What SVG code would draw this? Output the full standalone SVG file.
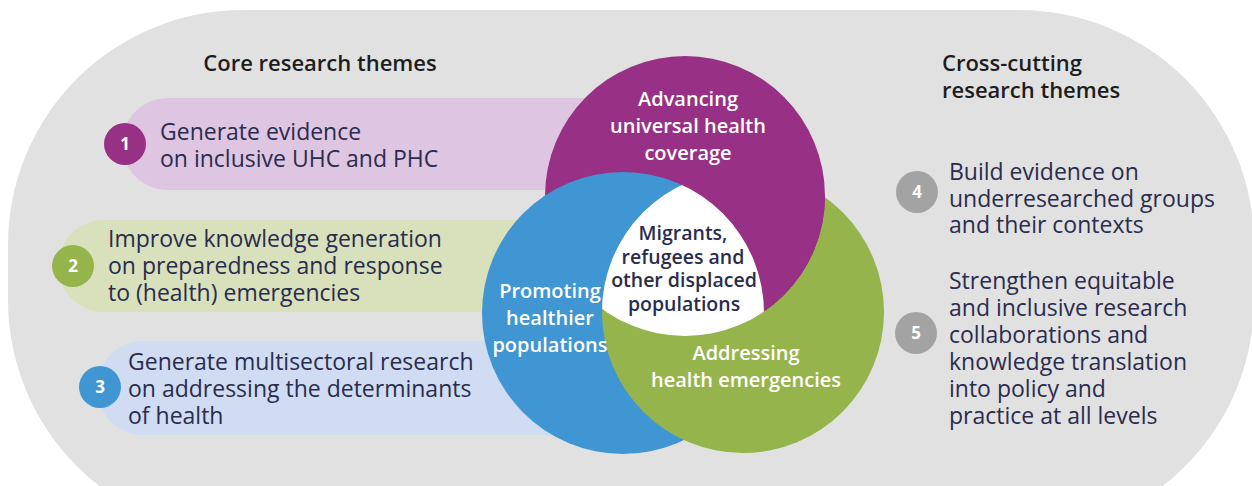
<svg xmlns="http://www.w3.org/2000/svg" width="1252" height="486" viewBox="0 0 1252 486">
  <style>
    .head { font-family: "Open Sans", "Liberation Sans", sans-serif; font-weight: 600; font-size: 22px; fill: #1d1d1d; }
    .body { font-family: "Open Sans", "Liberation Sans", sans-serif; font-weight: 400; font-size: 23px; fill: #2a2c4e; }
    .num { font-family: "Open Sans", "Liberation Sans", sans-serif; font-weight: 700; font-size: 17px; fill: #ffffff; text-anchor: middle; }
    .clabel { font-family: "Open Sans", "Liberation Sans", sans-serif; font-weight: 600; font-size: 20px; fill: #ffffff; text-anchor: middle; }
    .center { font-family: "Open Sans", "Liberation Sans", sans-serif; font-weight: 600; font-size: 19.5px; fill: #2a2c4e; text-anchor: middle; }
    .purple { fill: #983085; }
    .blue { fill: #4096d3; }
    .green { fill: #96b44c; }
    .grey { fill: #a3a3a3; }
  </style>
  <defs>
    <clipPath id="clipBlue"><circle cx="623" cy="313" r="141"/></clipPath>
    <clipPath id="clipBlueBig"><circle cx="623" cy="313" r="143"/></clipPath>
    <clipPath id="clipGreen"><circle cx="743" cy="312" r="141"/></clipPath>
    <clipPath id="clipPurpleBig"><circle cx="685" cy="196" r="142"/></clipPath>
    <clipPath id="clipOutsideBlue">
      <path clip-rule="evenodd" d="M0 0H1252V486H0Z M484 313 A139 139 0 1 0 762 313 A139 139 0 1 0 484 313 Z"/>
    </clipPath>
  </defs>

  <g id="background">
    <rect x="8" y="10" width="1246" height="525" rx="235" ry="235" fill="#e1e1e1"/>
  </g>

  <g id="heading-core">
    <text class="head" x="320" y="71" text-anchor="middle">Core research themes</text>
  </g>
  <g id="heading-cross">
    <text class="head" x="942" y="71">Cross-cutting</text>
    <text class="head" x="942" y="98">research themes</text>
  </g>

  <g id="theme-1">
    <rect x="122" y="98" width="520" height="92" rx="46" fill="#dec5e1"/>
    <circle class="purple" cx="125" cy="144" r="21"/>
    <text class="num" x="125" y="150">1</text>
    <text class="body" x="160" y="140">Generate evidence</text>
    <text class="body" x="160" y="167">on inclusive UHC and PHC</text>
  </g>

  <g id="theme-2">
    <rect x="58" y="220" width="540" height="92" rx="46" fill="#d8e1bb"/>
    <circle class="green" cx="73" cy="266" r="21"/>
    <text class="num" x="73" y="272">2</text>
    <text class="body" x="108" y="247">Improve knowledge generation</text>
    <text class="body" x="108" y="274">on preparedness and response</text>
    <text class="body" x="108" y="301">to (health) emergencies</text>
  </g>

  <g id="theme-3">
    <rect x="97" y="341" width="510" height="94" rx="47" fill="#cfdcf1"/>
    <circle class="blue" cx="100" cy="387" r="21"/>
    <text class="num" x="100" y="393">3</text>
    <text class="body" x="128" y="370">Generate multisectoral research</text>
    <text class="body" x="128" y="397">on addressing the determinants</text>
    <text class="body" x="128" y="424">of health</text>
  </g>

  <g id="venn">
    <circle class="green" cx="743" cy="312" r="141"/>
    <circle class="blue" cx="623" cy="313" r="141"/>
    <circle class="purple" cx="685" cy="196" r="140"/>
    <circle class="blue" cx="623" cy="313" r="141" clip-path="url(#clipPurpleBig)"/>
    <circle class="green" cx="743" cy="312" r="141" clip-path="url(#clipBlueBig)"/>
    <g clip-path="url(#clipGreen)">
      <circle class="purple" cx="685" cy="196" r="140" clip-path="url(#clipOutsideBlue)"/>
    </g>
    <g clip-path="url(#clipBlue)">
      <circle cx="685" cy="196" r="140" fill="#ffffff" clip-path="url(#clipGreen)"/>
    </g>
  </g>

  <g id="circle-uhc">
    <text class="clabel" x="688" y="106">Advancing</text>
    <text class="clabel" x="688" y="133">universal health</text>
    <text class="clabel" x="688" y="160">coverage</text>
  </g>
  <g id="circle-populations">
    <text class="clabel" x="550" y="298">Promoting</text>
    <text class="clabel" x="550" y="325">healthier</text>
    <text class="clabel" x="550" y="352">populations</text>
  </g>
  <g id="circle-emergencies">
    <text class="clabel" x="746" y="360">Addressing</text>
    <text class="clabel" x="746" y="387">health emergencies</text>
  </g>
  <g id="center-migrants">
    <text class="center" x="683" y="240">Migrants,</text>
    <text class="center" x="683" y="263.5">refugees and</text>
    <text class="center" x="684" y="287">other displaced</text>
    <text class="center" x="684" y="310.5">populations</text>
  </g>

  <g id="theme-4">
    <circle class="grey" cx="917" cy="192" r="21"/>
    <text class="num" x="917" y="198">4</text>
    <text class="body" x="949" y="180">Build evidence on</text>
    <text class="body" x="949" y="207">underresearched groups</text>
    <text class="body" x="949" y="233">and their contexts</text>
  </g>

  <g id="theme-5">
    <circle class="grey" cx="916" cy="333" r="21"/>
    <text class="num" x="916" y="339">5</text>
    <text class="body" x="949" y="289">Strengthen equitable</text>
    <text class="body" x="949" y="316">and inclusive research</text>
    <text class="body" x="949" y="343">collaborations and</text>
    <text class="body" x="949" y="370">knowledge translation</text>
    <text class="body" x="949" y="397">into policy and</text>
    <text class="body" x="949" y="424">practice at all levels</text>
  </g>

  <g id="connectors"/>
</svg>
